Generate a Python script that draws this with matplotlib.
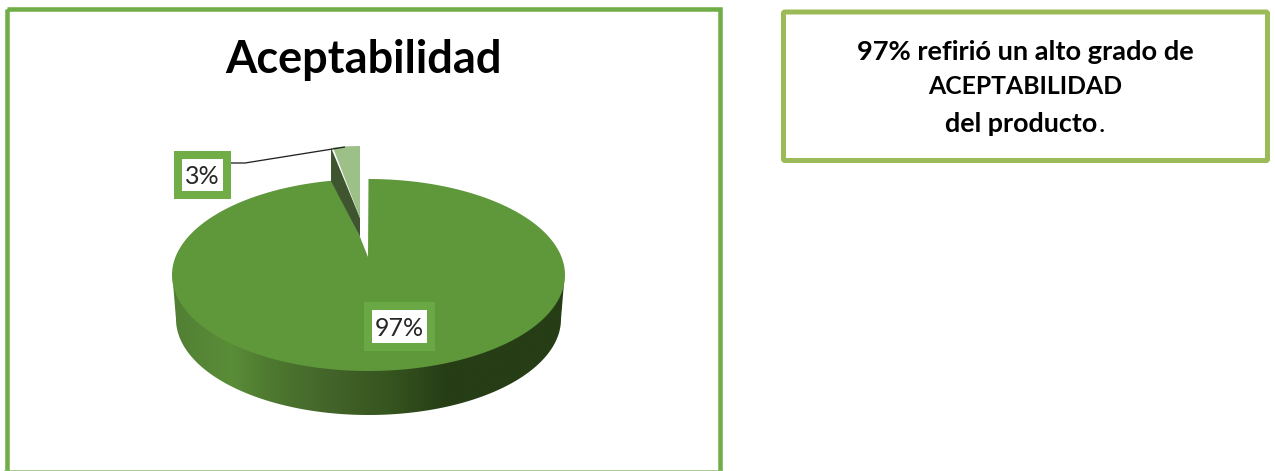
import matplotlib
matplotlib.use('Agg')
import matplotlib.pyplot as plt
from matplotlib.colors import LinearSegmentedColormap
from matplotlib.patches import Polygon, Rectangle, FancyBboxPatch
import numpy as np

plt.rcParams['font.family'] = ['Lato', 'DejaVu Sans']

title = "Aceptabilidad"
shares = [97, 3]
note_lines = ["97% refirió un alto grado de", "ACEPTABILIDAD", "del producto"]

GREEN = '#5f973b'
LIGHT = '#9dc088'
DARK_SIDE = '#3f5530'
FRAME = '#70ad47'
NOTE_FRAME = '#9bbb59'

# pixel coordinates, y pointing down
fig = plt.figure(figsize=(12.75, 4.71), dpi=100)
ax = fig.add_axes([0, 0, 1, 1])
ax.set_xlim(0, 1275)
ax.set_ylim(471, 0)
ax.axis('off')


def px(n):
    return n * 0.72


def arc(cx, cy, rx, ry, start, stop, n=300):
    # angles run clockwise from twelve o'clock, as on the pie
    t = np.radians(np.linspace(start, stop, n))
    return np.column_stack([cx + rx * np.sin(t), cy - ry * np.cos(t)])


# outer frames
ax.add_patch(Rectangle((7, 8.5), 713, 470, fill=False, ec=FRAME, lw=px(4.5), joinstyle='miter', zorder=1))
ax.plot([5, 722], [470.5, 470.5], color='#8cc06a', lw=px(1.5), zorder=1)
ax.add_patch(FancyBboxPatch((783.5, 12), 484, 148.5, boxstyle='round,pad=0,rounding_size=1.5',
                            fc='white', ec=NOTE_FRAME, lw=px(5), zorder=1))

ax.text(363.5, 60, title, fontsize=32.5, fontweight='bold', color='black', ha='center', va='center')

# pie geometry
cx, cy, rx, ry = 368.5, 275, 196.5, 96
depth = 44
sweep = 360 * shares[0] / sum(shares)

# side wall of the large slice, shaded left to right; starts a little
# above the rim so no seam shows under the top face
front = arc(cx, cy - 4, rx, ry, 90, 270)
base = arc(cx, cy + depth, rx - 4, ry, 270, 90)
wall = Polygon(np.vstack([front, base]), closed=True, fc='none', ec='none', transform=ax.transData)
ax.add_patch(wall)
shade = LinearSegmentedColormap.from_list('wall', [
    (0.00, '#517f34'), (0.15, '#5a8d38'), (0.24, '#4f7a30'), (0.40, '#43642a'),
    (0.55, '#36551f'), (0.70, '#263d16'), (1.00, '#263d16')])
img = ax.imshow(np.linspace(0, 1, 400)[None, :], cmap=shade, aspect='auto',
                extent=(cx - rx, cx + rx, cy + depth + ry, cy - ry), zorder=2)
img.set_clip_path(wall)
ax.set_xlim(0, 1275)
ax.set_ylim(471, 0)

# top of the large slice, its point pushed up from the centre
apex = (368, 257)
notch = (360, 237)
top = arc(cx, cy, rx, ry, 0, sweep)
ax.add_patch(Polygon(np.vstack([top, [notch], [apex]]), closed=True, fc=GREEN, ec='none', zorder=3))

# small slice pulled out of the pie
small_tip = (360, 218)
small_top = arc(360, 236, 144, 90, sweep, 360, 40)
left = small_top[0]
ax.add_patch(Polygon([(left[0] - 2, left[1]), (left[0] - 2, 181), notch, small_tip],
                     closed=True, fc=DARK_SIDE, ec='none', zorder=4))
ax.add_patch(Polygon(np.vstack([small_top, [small_tip]]), closed=True, fc=LIGHT, ec='none', zorder=4))

# leader line of the small slice
ax.plot([231, 245, 345], [163, 163, 147], color='#222222', lw=px(1.3), zorder=5, solid_capstyle='butt')


def value_box(x0, y0, x1, y1, value, edge):
    ax.add_patch(Rectangle((x0 + 4, y0 + 4), x1 - x0 - 8, y1 - y0 - 8, fc='white', ec=edge,
                           lw=px(8), joinstyle='miter', zorder=6))
    ax.text((x0 + x1) / 2, (y0 + y1) / 2, f"{value}%", fontsize=18, color='#262626',
            ha='center', va='center_baseline', zorder=7)


value_box(174, 151, 231, 199, shares[1], FRAME)
value_box(364, 302, 435, 351, shares[0], '#6aa845')

# note on the right
note_x = [1025.5, 1025, 1021.5]
note_y = [52, 87, 124]
note_size = [19.6, 17.8, 19.4]
for line, x, y, size in zip(note_lines, note_x, note_y, note_size):
    ax.text(x, y, line, fontsize=size, fontweight='bold', color='black', ha='center', va='center')

# the closing full stop is not bold
fig.canvas.draw()
last = ax.texts[-1]
box = last.get_window_extent(fig.canvas.get_renderer())
ax.text(box.x1 + 0.5, note_y[2], ".", fontsize=note_size[2], color='black', ha='left', va='center')

fig.savefig('out.png', dpi=100)
